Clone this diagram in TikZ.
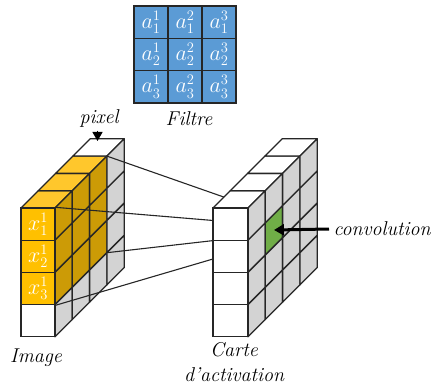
\RequirePackage{fix-cm}
\documentclass[tikz,border=0pt]{standalone}
\usepackage{tikz}
\usetikzlibrary{arrows.meta,positioning}
\DeclareMathSizes{22}{22}{14.5}{11}

\definecolor{filterblue}{HTML}{5B9BD5}
\definecolor{imgyellow}{HTML}{FFC000}
\definecolor{topyellow}{HTML}{FFC72C}
\definecolor{sideyellow}{HTML}{CC9B06}
\definecolor{sidegray}{HTML}{D3D3D3}
\definecolor{convgreen}{HTML}{70AD47}

\begin{document}
\begin{tikzpicture}[
    x=1pt, y=-1pt,
    line width=1.3pt,
    every node/.style={font=\fontsize{20}{25}\selectfont},
    fcell/.style={
        rectangle,
        draw=black!85,
        fill=filterblue,
        text=white,
        font=\fontsize{22}{25}\selectfont,
        minimum width=34pt,
        minimum height=32.3pt,
        inner sep=0pt
    },
    icell/.style={
        rectangle,
        draw=black!85,
        text=white,
        font=\fontsize{22}{25}\selectfont,
        minimum width=34pt,
        minimum height=32.2pt,
        inner sep=0pt
    },
    face/.style={draw=black!85, line join=round},
    lbl/.style={font=\fontsize{20}{25}\selectfont\itshape, inner sep=2pt},
    link/.style={line width=1.1pt, draw=black!85}
]
\useasboundingbox (0,0) rectangle (441,387);
\def\dep{17.3}

% filter
\foreach \r in {1,2,3}
  \foreach \c in {1,2,3}
    \node[fcell] (f\r\c) at (134+34*\c-17, 6+32.3*\r-16.15) {$a_{\r}^{\c}$};
\node[lbl] (filtre) at (189,119) {Filtre};

% image block
\foreach \k/\col in {0/topyellow,1/topyellow,2/topyellow,3/white}
  \filldraw[face, fill=\col] (21+\k*\dep, 208-\k*\dep) -- ++(34,0) -- ++(\dep,-\dep) -- ++(-34,0) -- cycle;
\foreach \k in {0,...,3}
  \foreach \i in {0,...,3}{
    \def\col{sidegray}
    \ifnum\k<3 \ifnum\i<3 \def\col{sideyellow}\fi\fi
    \filldraw[face, fill=\col] (55+\k*\dep, 208+\i*32.2-\k*\dep) -- ++(\dep,-\dep) -- ++(0,32.2) -- ++(-\dep,\dep) -- cycle;
  }
\node[icell, fill=imgyellow] (x1) at (38,224.1) {$x_1^1$};
\node[icell, fill=imgyellow] (x2) at (38,256.3) {$x_2^1$};
\node[icell, fill=imgyellow] (x3) at (38,288.5) {$x_3^1$};
\node[icell, fill=white] (x4) at (38,320.7) {};
\node[lbl] (image) at (36,358) {Image};

\coordinate (pixtip) at (97.5,141);
\node[lbl] (pixel) at (99,119) {pixel};
\draw[line width=1.2pt, -{Triangle[width=10pt,length=9pt]}] (pixel.south -| pixtip) -- (pixtip);

% links to the map
\coordinate (bk1) at (55+3*\dep, 208-3*\dep);
\coordinate (bk3) at (55+3*\dep, 304.6-3*\dep);
\coordinate (focus) at (315,229);
\draw[link] (bk1) -- (focus);
\draw[link] (x1.north east) -- (focus);
\draw[link] (bk3) -- (focus);
\draw[link] (x3.south east) -- (focus);

% activation map
\foreach \k in {0,...,3}
  \filldraw[face, fill=white] (213+\k*\dep, 208-\k*\dep) -- ++(35,0) -- ++(\dep,-\dep) -- ++(-35,0) -- cycle;
\foreach \k in {0,...,3}
  \foreach \i in {0,...,3}{
    \def\col{sidegray}
    \ifnum\k=1 \ifnum\i=1 \def\col{convgreen}\fi\fi
    \filldraw[face, fill=\col] (248+\k*\dep, 208+\i*32.2-\k*\dep) -- ++(\dep,-\dep) -- ++(0,32.2) -- ++(-\dep,\dep) -- cycle;
  }
\foreach \i in {1,...,4}
  \node[icell, fill=white, minimum width=35pt] (m\i) at (230.5,208+32.2*\i-16.1) {};
\node[lbl, align=center] (carte) at (234,362) {Carte\\d'activation};

\coordinate (gc) at (274,230);
\node[lbl, anchor=west, inner sep=4pt] (conv) at (329,229) {convolution};
\draw[line width=3pt, -{Triangle[width=11pt,length=10pt]}] (conv.west) -- (gc);

\end{tikzpicture}
\end{document}
